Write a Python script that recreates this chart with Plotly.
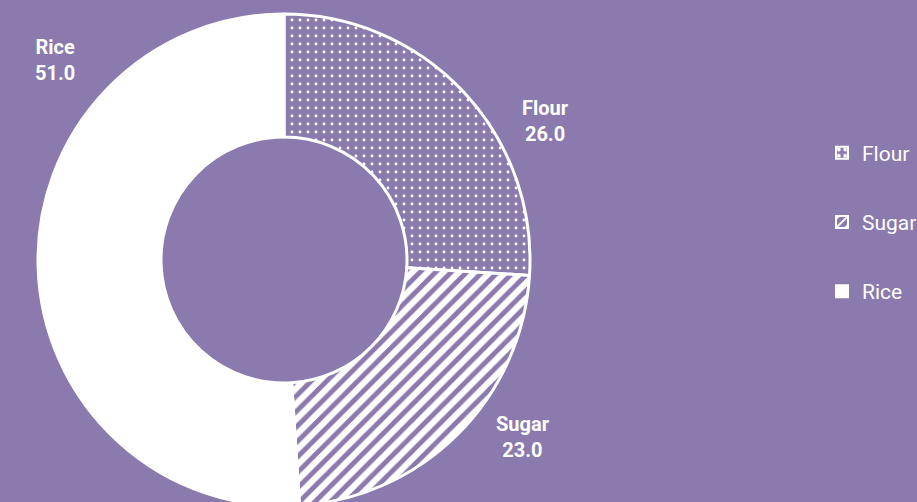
import plotly.graph_objects as go

BG = '#8a7aad'
W, H = 935, 506   # a bit wider/taller than the window; the overflow is cut off like in the reference
TOP = 14

labels = ['Flour', 'Sugar', 'Rice']
values = [26.0, 23.0, 51.0]
patterns = ['.', '/', '']
fills = [BG, BG, 'white']

# where each slice label sits (pixels from top-left)
label_px = [(545, 121), (523, 437), (55, 60)]

fig = go.Figure()

fig.add_trace(
    go.Pie(
        labels=labels,
        values=values,
        hole=0.5,
        sort=False,
        direction='clockwise',
        rotation=0,
        showlegend=False,
        marker=dict(
            colors=fills,
            line=dict(color='white', width=3),
            pattern=dict(shape=patterns, fgcolor='white', bgcolor=BG, fgopacity=1,
                         fillmode='overlay', size=[8, 11, 8], solidity=[0.1, 0.55, 0.3])
        ),
        textinfo='none',
        domain=dict(x=[38 / W, 530 / W], y=[0, 1]),
        hoverinfo='label+value'
    )
)

for lab, val, (px, py) in zip(labels, values, label_px):
    fig.add_annotation(
        x=px / W, y=(H - py) / (H - TOP), xref='paper', yref='paper',
        xanchor='center', yanchor='middle',
        text=f'<b>{lab}<br>{val:.1f}</b>',
        showarrow=False, align='center',
        font=dict(family='Roboto', size=20, color='white')
    )

# legend entries (pie slices cannot be spaced apart, so use empty bars)
for lab, pat, col in zip(labels, patterns, fills):
    fig.add_trace(
        go.Bar(
            x=[None], y=[None],
            name=lab,
            legendgroup=lab,
            marker=dict(color=col, line=dict(width=2, color='white'),
                        pattern=dict(shape=pat, fgcolor='white', bgcolor=col, fgopacity=1,
                                     size=8, solidity=0.3))
        )
    )

fig.update_layout(
    width=W,
    height=H,
    margin=dict(l=0, r=0, t=TOP, b=0),
    paper_bgcolor=BG,
    plot_bgcolor=BG,
    font=dict(family='Roboto', color='white', size=21),
    xaxis=dict(visible=False),
    yaxis=dict(visible=False),
    legend=dict(
        x=822 / W, y=(H - 222) / (H - TOP), xanchor='left', yanchor='middle',
        tracegroupgap=39,
        bgcolor='rgba(0,0,0,0)',
        font=dict(family='Roboto', size=21, color='white'),
        itemsizing='constant'
    )
)

fig.write_html(
    "out.html",
    config={'displayModeBar': False},
    post_script="document.body.style.margin='0';document.body.style.overflow='hidden';"
)
